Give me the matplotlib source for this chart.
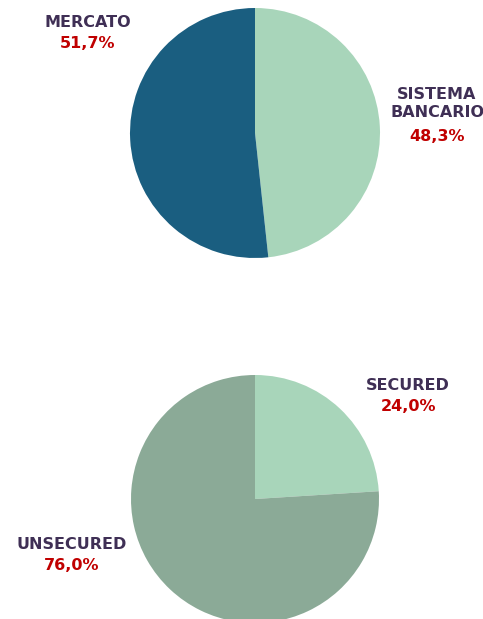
import matplotlib
matplotlib.use("Agg")
import matplotlib.pyplot as plt

# -- Data -- #
top_labels = ["SISTEMA\nBANCARIO", "MERCATO"]
top_values = [48.3, 51.7]
bottom_labels = ["SECURED", "UNSECURED"]
bottom_values = [24.0, 76.0]

top_colors = ["#a8d5ba", "#1a5e80"]
bottom_colors = ["#a8d5ba", "#8baa97"]
name_color = "#3f2f55"
pct_color = "#c00000"

W, H = 483, 619
fig = plt.figure(figsize=(W / 100, H / 100), dpi=100)


def pie_axes(cx, cy, r, values, colors):
	# axes box in pixel coords (from top-left) -> figure fraction
	ax = fig.add_axes([(cx - r) / W, 1 - (cy + r) / H, 2 * r / W, 2 * r / H])
	ax.pie(values, colors=colors, startangle=90, counterclock=False,
		   radius=1, wedgeprops=dict(linewidth=0))
	# pie() resets the limits, so set them afterwards
	ax.set_xlim(-1, 1)
	ax.set_ylim(-1, 1)
	ax.set_axis_off()
	return ax


def fmt(v):
	return "{:.1f}%".format(v).replace(".", ",")


def label(x, y, name, value):
	n_lines = name.count("\n") + 1
	fig.text(x / W, 1 - y / H, name, ha="center", va="top", color=name_color,
			 fontsize=11.5, fontweight="bold", linespacing=1.25)
	fig.text(x / W, 1 - (y + 21 * n_lines) / H, fmt(value), ha="center", va="top",
			 color=pct_color, fontsize=11.5, fontweight="bold")


ax1 = pie_axes(255, 133, 125, top_values, top_colors)
ax2 = pie_axes(255, 499, 124, bottom_values, bottom_colors)

# -- Labels -- #
label(437, 87, top_labels[0], top_values[0])
label(88, 15, top_labels[1], top_values[1])
label(408, 378, bottom_labels[0], bottom_values[0])
label(72, 537, bottom_labels[1], bottom_values[1])

fig.savefig("out.png", dpi=100)
